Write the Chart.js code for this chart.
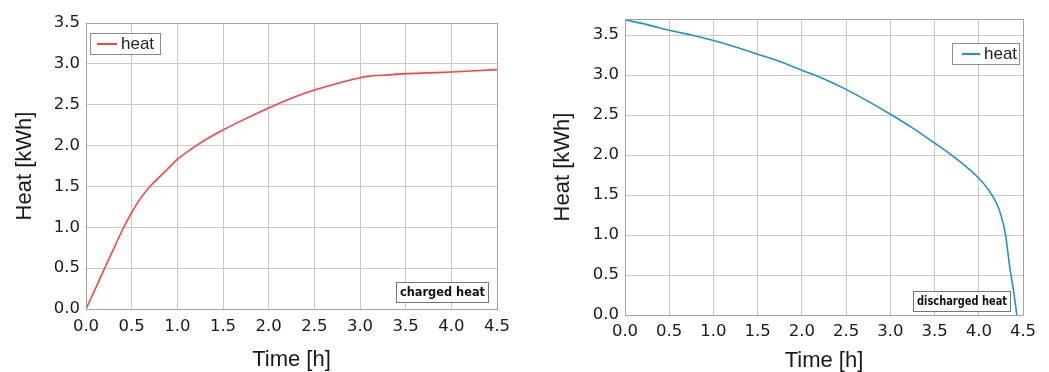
<!DOCTYPE html>
<html>
<head>
<meta charset="utf-8">
<script src="https://cdn.jsdelivr.net/npm/chart.js@4/dist/chart.umd.min.js"></script>
<style>
html,body{margin:0;padding:0;background:#fff;width:1049px;height:372px;overflow:hidden;}
#c1{position:absolute;left:0;top:0;}
#c2{position:absolute;left:530px;top:0;}
</style>
</head>
<body>
<canvas id="c1" width="520" height="372"></canvas>
<canvas id="c2" width="519" height="372"></canvas>
<script>
// ---- data ----
const chargeTime = [0, 0.1, 0.2, 0.3, 0.4, 0.5, 0.6, 0.7, 0.8, 0.9, 1.0, 1.25, 1.5, 1.75, 2.0, 2.25, 2.5, 2.75, 3.0, 3.1, 3.25, 3.5, 3.75, 4.0, 4.25, 4.5];
const chargeHeat = [0, 0.24, 0.49, 0.73, 0.97, 1.18, 1.36, 1.50, 1.61, 1.72, 1.83, 2.03, 2.19, 2.33, 2.46, 2.58, 2.68, 2.76, 2.83, 2.85, 2.86, 2.88, 2.89, 2.90, 2.915, 2.93];
const dischargeTime = [0, 0.25, 0.5, 0.75, 1.0, 1.25, 1.5, 1.75, 2.0, 2.25, 2.5, 2.75, 3.0, 3.25, 3.5, 3.75, 4.0, 4.1, 4.2, 4.25, 4.3, 4.35, 4.4, 4.43];
const dischargeHeat = [3.69, 3.63, 3.56, 3.50, 3.43, 3.35, 3.26, 3.17, 3.06, 2.95, 2.82, 2.67, 2.51, 2.34, 2.15, 1.95, 1.71, 1.58, 1.40, 1.25, 1.02, 0.60, 0.25, 0.0];
const xTicks = [0, 0.5, 1.0, 1.5, 2.0, 2.5, 3.0, 3.5, 4.0, 4.5];
const yTicks = [0, 0.5, 1.0, 1.5, 2.0, 2.5, 3.0, 3.5];
const seriesLabel = 'heat';
const xTitle = 'Time [h]';
const yTitle = 'Heat [kWh]';
const noteLeft = 'charged heat';
const noteRight = 'discharged heat';

const toPts = (xs, ys) => xs.map((x, i) => ({x: x, y: ys[i]}));

const boxPlugin = {
  id: 'boxes',
  afterDraw(chart, args, opts) {
    const ctx = chart.ctx, a = chart.chartArea;
    ctx.save();
    // chart area border
    ctx.strokeStyle = '#a3a3a3';
    ctx.lineWidth = 1;
    ctx.strokeRect(Math.round(a.left) + 0.5, Math.round(a.top) + 0.5, Math.round(a.right - a.left), Math.round(a.bottom - a.top));
    // legend
    const L = opts.legend;
    ctx.fillStyle = '#fff';
    ctx.fillRect(L.x, L.y, L.w, L.h);
    ctx.strokeStyle = '#8c8c8c';
    ctx.strokeRect(L.x + 0.5, L.y + 0.5, L.w, L.h);
    const ds = chart.data.datasets[0];
    ctx.strokeStyle = ds.borderColor;
    ctx.lineWidth = 2;
    ctx.beginPath();
    ctx.moveTo(L.x + L.lx0, L.y + L.h / 2 + 0.5);
    ctx.lineTo(L.x + L.lx1, L.y + L.h / 2 + 0.5);
    ctx.stroke();
    ctx.fillStyle = '#222';
    ctx.font = '17px "Liberation Sans", Arial, sans-serif';
    ctx.textBaseline = 'middle';
    ctx.textAlign = 'left';
    ctx.fillText(ds.label, L.x + L.lx1 + 4, L.y + L.h / 2 + 1);
    // note box
    const N = opts.note;
    ctx.fillStyle = '#fff';
    ctx.fillRect(N.x, N.y, N.w, N.h);
    ctx.strokeStyle = '#777';
    ctx.lineWidth = 1;
    ctx.strokeRect(N.x + 0.5, N.y + 0.5, N.w, N.h);
    ctx.fillStyle = '#111';
    ctx.font = 'bold 12.5px "DejaVu Sans", sans-serif';
    ctx.textAlign = 'center';
    const tw = ctx.measureText(N.text).width;
    const target = N.w - 7;
    const sx = tw > target ? target / tw : 1;
    ctx.translate(N.x + N.w / 2 + 0.5, N.y + N.h / 2 + 1);
    ctx.scale(sx, 1);
    ctx.fillText(N.text, 0, 0);
    ctx.restore();
  }
};

function makeChart(id, cfg) {
  const tickFont = {family: '"DejaVu Sans", Verdana, sans-serif', size: 16.5};
  const titleFont = {family: '"Liberation Sans", Arial, sans-serif', size: 22, lineHeight: 1};
  return new Chart(document.getElementById(id), {
    type: 'line',
    data: {
      datasets: [{
        label: seriesLabel,
        data: toPts(cfg.xs, cfg.ys),
        borderColor: cfg.color,
        borderWidth: 1.6,
        pointRadius: 0,
        cubicInterpolationMode: 'monotone',
        fill: false
      }]
    },
    options: {
      responsive: false,
      animation: false,
      devicePixelRatio: 1,
      layout: {padding: cfg.padding},
      plugins: {
        legend: {display: false},
        tooltip: {enabled: false},
        boxes: {legend: cfg.legend, note: cfg.note}
      },
      scales: {
        x: {
          type: 'linear',
          min: 0, max: 4.5,
          afterBuildTicks: s => { s.ticks = xTicks.map(v => ({value: v})); },
          afterFit: s => { s.height = cfg.xh; },
          grid: {color: '#c9c9c9', lineWidth: 1, drawTicks: false},
          border: {display: false},
          ticks: {autoSkip: false, maxRotation: 0, padding: cfg.xpad, color: '#1a1a1a', font: tickFont,
                  callback: v => Number(v).toFixed(1)},
          title: {display: true, text: xTitle, color: '#1a1a1a', font: titleFont, padding: {top: 0, bottom: cfg.xtpad}}
        },
        y: {
          type: 'linear',
          min: 0, max: cfg.ymax,
          afterBuildTicks: s => { s.ticks = yTicks.map(v => ({value: v})); },
          afterFit: s => { s.width = cfg.yw; },
          grid: {color: '#c9c9c9', lineWidth: 1, drawTicks: false},
          border: {display: false},
          ticks: {autoSkip: false, padding: 6, color: '#1a1a1a', font: tickFont,
                  callback: v => Number(v).toFixed(1)},
          title: {display: true, text: yTitle, color: '#1a1a1a', font: titleFont, padding: {top: cfg.ytpad, bottom: 0}}
        }
      }
    },
    plugins: [boxPlugin]
  });
}

makeChart('c1', {
  xs: chargeTime, ys: chargeHeat, color: '#ff4040', ymax: 3.5,
  padding: {left: 0, top: 23, right: 23, bottom: 0},
  yw: 86, xh: 63, xpad: 8, xtpad: 1, ytpad: 14,
  legend: {x: 90, y: 33, w: 70, h: 21, lx0: 7, lx1: 27},
  note: {x: 396, y: 282, w: 92, h: 20, text: noteLeft}
});

makeChart('c2', {
  xs: dischargeTime, ys: dischargeHeat, color: '#1f93d0', ymax: 3.7,
  padding: {left: 0, top: 19, right: 26, bottom: 0},
  yw: 95, xh: 57, xpad: 7, xtpad: 0, ytpad: 22,
  legend: {x: 422, y: 43, w: 67, h: 21, lx0: 10, lx1: 28},
  note: {x: 383, y: 291, w: 97, h: 20, text: noteRight}
});
</script>
</body>
</html>
